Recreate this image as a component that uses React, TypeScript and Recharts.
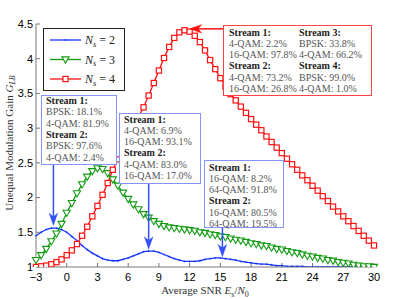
import { LineChart, Line, XAxis, YAxis, Legend } from 'recharts';

const snr = [
  -3, -2.5, -2, -1.5, -1, -0.5, 0, 0.5, 1, 1.5,
  2, 2.5, 3, 3.5, 4, 4.5, 5, 5.5, 6, 6.5,
  7, 7.5, 8, 8.5, 9, 9.5, 10, 10.5, 11, 11.5,
  12, 12.5, 13, 13.5, 14, 14.5, 15, 15.5, 16, 16.5,
  17, 17.5, 18, 18.5, 19, 19.5, 20, 20.5, 21, 21.5,
  22, 22.5, 23, 23.5, 24, 24.5, 25, 25.5, 26, 26.5,
  27, 27.5, 28, 28.5, 29, 29.5, 30,
];

// N_s = 2
const gainNs2 = [
  1.45, 1.50, 1.54, 1.56, 1.56, 1.54, 1.50, 1.44, 1.38, 1.31,
  1.25, 1.20, 1.16, 1.12, 1.10, 1.09, 1.09, 1.11, 1.13, 1.16,
  1.19, 1.22, 1.23, 1.23, 1.21, 1.18, 1.15, 1.12, 1.10, 1.08,
  1.08, 1.08, 1.09, 1.11, 1.12, 1.13, 1.13, 1.12, 1.11, 1.10,
  1.08, 1.07, 1.06, 1.05, 1.04, 1.04, 1.03, 1.02, 1.02, 1.01,
  1.01, 1.01, 1.01, 1.00, 1.00, 1.00, 1.00, 1.00, 1.00, 1.00,
  1.00, 1.00, 1.00, 1.00, 1.00, 1.00, 1.00,
];

// N_s = 3
const gainNs3 = [
  1.10, 1.17, 1.26, 1.37, 1.48, 1.62, 1.78, 1.92, 2.06, 2.19,
  2.30, 2.38, 2.42, 2.41, 2.35, 2.26, 2.17, 2.07, 1.98, 1.90,
  1.83, 1.76, 1.71, 1.66, 1.62, 1.59, 1.57, 1.56, 1.55, 1.54,
  1.53, 1.52, 1.50, 1.49, 1.47, 1.46, 1.44, 1.43, 1.41, 1.39,
  1.38, 1.36, 1.34, 1.33, 1.31, 1.30, 1.28, 1.26, 1.25, 1.23,
  1.21, 1.20, 1.18, 1.16, 1.15, 1.13, 1.12, 1.10, 1.09, 1.07,
  1.06, 1.05, 1.03, 1.02, 1.01, 1.01, 1.00,
];

// N_s = 4
const gainNs4 = [
  1.00, 1.01, 1.02, 1.04, 1.07, 1.11, 1.17, 1.24, 1.33, 1.45,
  1.58, 1.73, 1.88, 2.04, 2.21, 2.40, 2.55, 2.71, 2.87, 3.02,
  3.16, 3.30, 3.47, 3.65, 3.83, 4.01, 4.17, 4.30, 4.38, 4.41,
  4.39, 4.33, 4.24, 4.12, 3.98, 3.85, 3.72, 3.60, 3.49, 3.40,
  3.31, 3.22, 3.13, 3.05, 2.97, 2.88, 2.80, 2.72, 2.64, 2.56,
  2.48, 2.40, 2.32, 2.25, 2.17, 2.10, 2.02, 1.95, 1.87, 1.80,
  1.73, 1.66, 1.59, 1.52, 1.45, 1.38, 1.31,
];

const xTicks = [-3, 0, 3, 6, 9, 12, 15, 18, 21, 24, 27, 30];
const yTicks = [1, 1.5, 2, 2.5, 3, 3.5, 4, 4.5];

const data = snr.map((x, i) => ({ snr: x, ns2: gainNs2[i], ns3: gainNs3[i], ns4: gainNs4[i] }));

const BLUE = '#1434ff';
const GREEN = '#139c13';
const RED = '#ff1010';
const NOTE_BLUE = '#3050ff';
const BOX_BLUE = '#8494ff';
const SERIF = '"Liberation Serif", "DejaVu Serif", serif';
const SANS = '"Liberation Sans", Arial, sans-serif';

const W = 416;
const H = 299;
const MARGIN = { top: 24, right: 42, left: 0, bottom: 0 };
const Y_W = 36;
const X_H = 32;
const plotL = MARGIN.left + Y_W;
const plotR = W - MARGIN.right;
const plotT = MARGIN.top;
const plotB = H - MARGIN.bottom - X_H;
const toPx = (x: number) => plotL + ((x + 3) / 33) * (plotR - plotL);
const toPy = (y: number) => plotB - ((y - 1) / 3.5) * (plotB - plotT);

// annotation boxes
const notes = [
  {
    x: 41, y: 95, w: 75, h: 69, color: BOX_BLUE, arrowColor: NOTE_BLUE, baseline: 104,
    cols: [{ x: 46, lines: ['*Stream 1:', 'BPSK: 18.1%', '4-QAM: 81.9%', '*Stream 2:', 'BPSK: 97.6%', '4-QAM: 2.4%'] }],
    from: 'bottom', target: [-1.3, 1.6],
  },
  {
    x: 119, y: 113, w: 81, h: 70, color: BOX_BLUE, arrowColor: NOTE_BLUE, baseline: 122.5,
    cols: [{ x: 124, lines: ['*Stream 1:', '4-QAM: 6.9%', '16-QAM: 93.1%', '*Stream 2:', '4-QAM: 83.0%', '16-QAM: 17.0%'] }],
    from: 'bottom', target: [8, 1.26],
  },
  {
    x: 204, y: 160, w: 79, h: 67, color: BOX_BLUE, arrowColor: NOTE_BLUE, baseline: 170.5,
    cols: [{ x: 209, lines: ['*Stream 1:', '16-QAM: 8.2%', '64-QAM: 91.8%', '*Stream 2:', '16-QAM: 80.5%', '64-QAM: 19.5%'] }],
    from: 'bottom', target: [15.2, 1.15],
  },
  {
    x: 223, y: 25, w: 148, h: 70, color: '#ff4444', arrowColor: RED, baseline: 35.5,
    cols: [
      { x: 229, lines: ['*Stream 1:', '4-QAM: 2.2%', '16-QAM: 97.8%', '*Stream 2:', '4-QAM: 73.2%', '16-QAM: 26.8%'] },
      { x: 299, lines: ['*Stream 3:', 'BPSK: 33.8%', '4-QAM: 66.2%', '*Stream 4:', 'BPSK: 99.0%', '4-QAM: 1.0%'] },
    ],
    from: 'left', target: [12, 4.43],
  },
];

function Arrow({ x1, y1, x2, y2, color }: { x1: number; y1: number; x2: number; y2: number; color: string }) {
  const dx = x2 - x1;
  const dy = y2 - y1;
  const len = Math.sqrt(dx * dx + dy * dy);
  const ux = dx / len;
  const uy = dy / len;
  const hl = 12;
  const hw = 4.2;
  const bx = x2 - ux * hl;
  const by = y2 - uy * hl;
  const nx = x2 - ux * (hl - 3.5);
  const ny = y2 - uy * (hl - 3.5);
  const pts = `${x2},${y2} ${bx - uy * hw},${by + ux * hw} ${nx},${ny} ${bx + uy * hw},${by - ux * hw}`;
  return (
    <g>
      <line x1={x1} y1={y1} x2={nx} y2={ny} stroke={color} strokeWidth={1.5} />
      <polygon points={pts} fill={color} stroke={color} strokeWidth={0.5} />
    </g>
  );
}

// drawn as an overlay so the boxes sit on top of the curves
function Annotations() {
  return (
    <svg width={W} height={H} style={{ position: 'absolute', left: 0, top: 0, pointerEvents: 'none' }}>
      {notes.map((n, i) => {
        const tx = toPx(n.target[0]);
        const ty = toPy(n.target[1]);
        const start = n.from === 'bottom' ? { x: tx, y: n.y + n.h } : { x: n.x, y: ty };
        return (
          <g key={i}>
            <Arrow x1={start.x} y1={start.y} x2={tx} y2={ty} color={n.arrowColor} />
            <rect x={n.x + 0.5} y={n.y + 0.5} width={n.w} height={n.h} fill="#fff" stroke={n.color} strokeWidth={1} />
            {n.cols.map((c, j) =>
              c.lines.map((l, k) => {
                const bold = l.startsWith('*');
                return (
                  <text
                    key={`${j}-${k}`}
                    x={c.x}
                    y={n.baseline + k * 11.3}
                    fontFamily={SERIF}
                    fontSize={10}
                    fontWeight={bold ? 'bold' : 'normal'}
                    fill={bold ? '#222' : '#555'}
                  >
                    {bold ? l.slice(1) : l}
                  </text>
                );
              })
            )}
          </g>
        );
      })}
      <text x={205} y={294} textAnchor="middle" fontFamily={SERIF} fontSize={11} fill="#333">
        Average SNR <tspan fontStyle="italic">E</tspan>
        <tspan fontSize={8} dy={2.5}>s</tspan>
        <tspan dy={-2.5}>/</tspan>
        <tspan fontStyle="italic">N</tspan>
        <tspan fontSize={8} dy={2.5}>0</tspan>
      </text>
      <text transform="translate(12.5,143) rotate(-90)" textAnchor="middle" fontFamily={SERIF} fontSize={11} fill="#333">
        Unequal Modulation Gain <tspan fontStyle="italic">G</tspan>
        <tspan fontSize={8} dy={2.5} fontStyle="italic">LB</tspan>
      </text>
    </svg>
  );
}

const legendItems = [
  { n: '2', color: BLUE, marker: 'plus' },
  { n: '3', color: GREEN, marker: 'tri' },
  { n: '4', color: RED, marker: 'square' },
];

function Marker({ kind, cx, cy, color }: { kind: string; cx: number; cy: number; color: string }) {
  if (kind === 'square') {
    return <rect x={cx - 2.6} y={cy - 2.6} width={5.2} height={5.2} fill="#fff" stroke={color} strokeWidth={1.2} />;
  }
  if (kind === 'tri') {
    return (
      <polygon
        points={`${cx - 3.6},${cy - 2.6} ${cx + 3.6},${cy - 2.6} ${cx},${cy + 3.6}`}
        fill="#fff"
        stroke={color}
        strokeWidth={1.1}
      />
    );
  }
  return (
    <path d={`M${cx - 1.1},${cy}H${cx + 1.1}M${cx},${cy - 1.1}V${cy + 1.1}`} stroke={color} strokeWidth={0.6} />
  );
}

function LegendBox() {
  return (
    <svg width={82} height={63} style={{ display: 'block' }}>
      <rect x={0.5} y={0.5} width={81} height={62} fill="#fff" stroke="#222" strokeWidth={1} />
      {legendItems.map((it, i) => {
        const y = 12 + i * 19.5;
        return (
          <g key={it.n}>
            <line x1={7} y1={y} x2={38} y2={y} stroke={it.color} strokeWidth={1.3} />
            <Marker kind={it.marker} cx={22.5} cy={y} color={it.color} />
            <text x={42} y={y + 4} fontFamily={SERIF} fontSize={12} fill="#222">
              <tspan fontStyle="italic">N</tspan>
              <tspan fontSize={8.5} dy={2.5} fontStyle="italic">s</tspan>
              <tspan dy={-2.5}> = {it.n}</tspan>
            </text>
          </g>
        );
      })}
    </svg>
  );
}

const dotFor = (kind: string, color: string) => (props: any) => (
  <Marker key={`${kind}-${props.index}`} kind={kind} cx={props.cx} cy={props.cy} color={color} />
);

const fmtX = (v: number) => String(v).replace('-', '\u2212');
const tickStyle = { fill: '#000', fontSize: 11, fontFamily: SANS };
const AXIS = '#777';

export default function App() {
  return (
    <div style={{ position: 'absolute', left: 0, top: 0, width: W, height: H, background: '#fff' }}>
      <LineChart width={W} height={H} data={data} margin={MARGIN}>
        <XAxis
          dataKey="snr"
          type="number"
          domain={[-3, 30]}
          ticks={xTicks}
          interval={0}
          height={X_H}
          tickSize={-4}
          tickMargin={10}
          tickFormatter={fmtX}
          tick={tickStyle}
          stroke={AXIS}
          tickLine={{ stroke: AXIS }}
        />
        <XAxis
          xAxisId="top"
          orientation="top"
          dataKey="snr"
          type="number"
          domain={[-3, 30]}
          ticks={xTicks}
          interval={0}
          height={0}
          tickSize={-4}
          tick={false}
          stroke={AXIS}
        />
        <YAxis
          type="number"
          domain={[1, 4.5]}
          ticks={yTicks}
          interval={0}
          width={Y_W}
          tickSize={-4}
          tickMargin={7}
          tick={tickStyle}
          stroke={AXIS}
          allowDataOverflow
        />
        <YAxis
          yAxisId="right"
          orientation="right"
          type="number"
          domain={[1, 4.5]}
          ticks={yTicks}
          interval={0}
          width={0}
          tickSize={-4}
          tick={false}
          stroke={AXIS}
        />
        <Legend
          layout="vertical"
          align="center"
          verticalAlign="middle"
          wrapperStyle={{ left: 43, top: 28, width: 82, height: 63 }}
          content={() => <LegendBox />}
        />
        <Line type="linear" dataKey="ns2" stroke={BLUE} strokeWidth={1.3} dot={dotFor('plus', BLUE)} activeDot={false} isAnimationActive={false} />
        <Line type="linear" dataKey="ns3" stroke={GREEN} strokeWidth={1.3} dot={dotFor('tri', GREEN)} activeDot={false} isAnimationActive={false} />
        <Line type="linear" dataKey="ns4" stroke={RED} strokeWidth={1.3} dot={dotFor('square', RED)} activeDot={false} isAnimationActive={false} />
      </LineChart>
      <Annotations />
    </div>
  );
}
